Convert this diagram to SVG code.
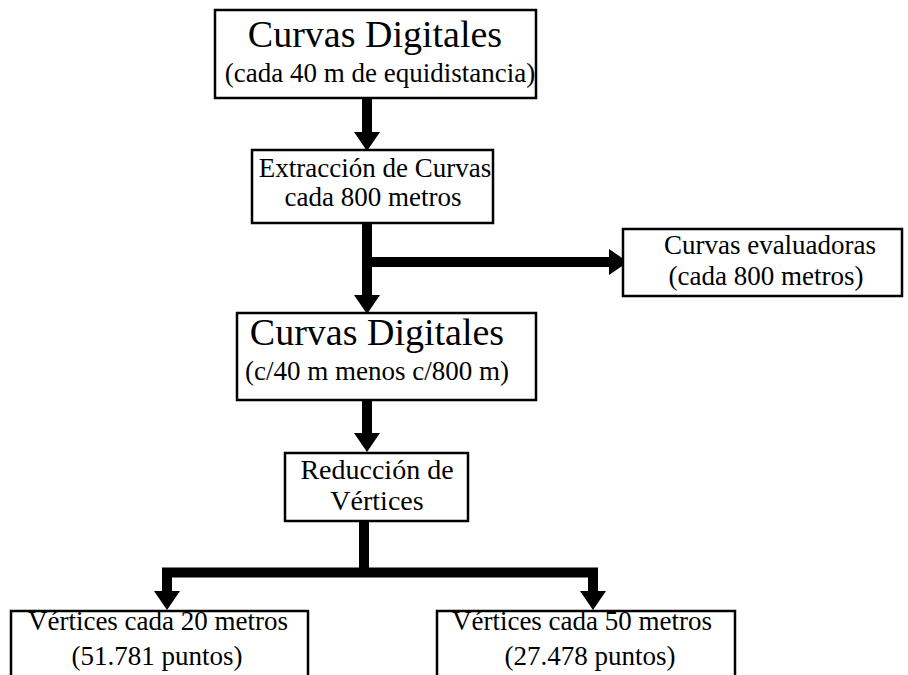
<svg xmlns="http://www.w3.org/2000/svg" width="908" height="675" viewBox="0 0 908 675">
<style>
.box{fill:#fff;stroke:#000;stroke-width:2.5}
.t{font-family:"Liberation Serif","Times New Roman",serif;fill:#000;text-anchor:middle}
.big{font-size:38px}
.sm{font-size:27px}
.c{fill:none;stroke:#000;stroke-width:10;stroke-linejoin:miter}
</style>
<defs>
<marker id="ah" markerUnits="userSpaceOnUse" viewBox="0 0 19 26" refX="0" refY="13" markerWidth="19" markerHeight="26" orient="auto">
<path d="M0,0 L19,13 L0,26 Z" fill="#000"/>
</marker>
</defs>
<rect width="908" height="675" fill="#fff"/>
<g id="connectors">
<path class="c" d="M367,98 V132" marker-end="url(#ah)"/>
<path class="c" d="M367,223 V295" marker-end="url(#ah)"/>
<path class="c" d="M367,262 H609" marker-end="url(#ah)"/>
<path class="c" d="M367,400 V433" marker-end="url(#ah)"/>
<path class="c" d="M364,521 V573"/>
<path class="c" d="M364,572.5 H167 V591" marker-end="url(#ah)"/>
<path class="c" d="M364,572.5 H593 V591" marker-end="url(#ah)"/>
</g>
<g id="n1">
<rect class="box" x="215" y="10" width="321" height="88"/>
<text class="t big" x="375" y="47">Curvas Digitales</text>
<text class="t sm" x="380" y="82">(cada 40 m de equidistancia)</text>
</g>
<g id="n2">
<rect class="box" x="252" y="150" width="241" height="73"/>
<text class="t sm" x="375" y="177">Extracción de Curvas</text>
<text class="t sm" x="373" y="206">cada 800 metros</text>
</g>
<g id="n3">
<rect class="box" x="623" y="229" width="279" height="67"/>
<text class="t sm" x="770" y="254">Curvas evaluadoras</text>
<text class="t sm" x="766" y="285">(cada 800 metros)</text>
</g>
<g id="n4">
<rect class="box" x="237" y="313" width="299" height="87"/>
<text class="t big" x="377" y="345">Curvas Digitales</text>
<text class="t sm" x="377" y="380">(c/40 m menos c/800 m)</text>
</g>
<g id="n5">
<rect class="box" x="285" y="453" width="183" height="68"/>
<text class="t sm" x="377" y="479" style="font-size:28px">Reducción de</text>
<text class="t sm" x="377" y="510" style="font-size:28px">Vértices</text>
</g>
<g id="n6">
<rect class="box" x="11" y="611" width="297" height="80"/>
<text class="t sm" x="158" y="630">Vértices cada 20 metros</text>
<text class="t sm" x="157" y="665">(51.781 puntos)</text>
</g>
<g id="n7">
<rect class="box" x="437" y="611" width="298" height="80"/>
<text class="t sm" x="582" y="630">Vértices cada 50 metros</text>
<text class="t sm" x="590" y="665">(27.478 puntos)</text>
</g>
</svg>
